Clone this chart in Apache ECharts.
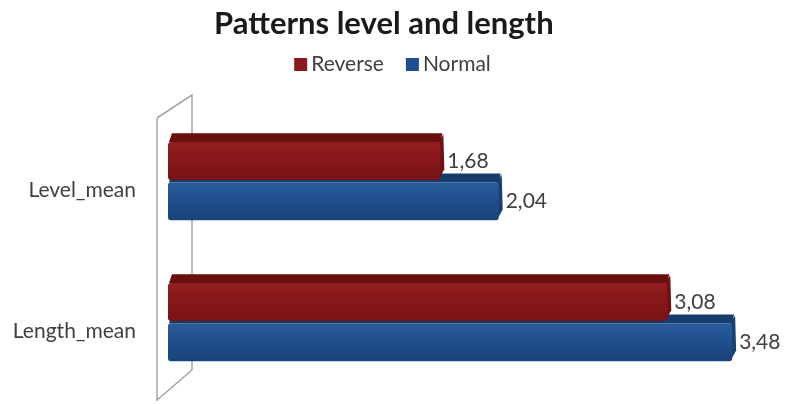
<!DOCTYPE html>
<html>
<head>
<meta charset="utf-8">
<script src="https://cdn.jsdelivr.net/npm/echarts@6/dist/echarts.min.js"></script>
<style>
  html, body { margin: 0; padding: 0; background: #fff; }
  #chart { width: 785px; height: 404px; }
</style>
</head>
<body>
<div id="chart"></div>
<script>
// data
const categories = ['Level_mean', 'Length_mean'];
const reverseValues = [1.68, 3.08];
const normalValues = [2.04, 3.48];

const chart = echarts.init(document.getElementById('chart'), null, { renderer: 'canvas' });

const fmt = v => v.toFixed(2).replace('.', ',');

// 3D-ish bar: front face, top face, right face, plus the value label
function make3dBar(slot, front, top, side) {
  return function (params, api) {
    const v = api.value(0);
    const end = api.coord([v, api.value(1)]);
    const start = api.coord([0, api.value(1)]);
    const band = api.size([0, 1])[1];
    const h = band * 0.27;
    const dy = band * 0.062;
    const dx = 4;
    const y0 = end[1] - band * 0.245 + slot * band * 0.285;
    const x0 = start[0];
    const x1 = end[0];
    return {
      type: 'group',
      children: [
        {
          type: 'polygon',
          shape: { points: [[x0 + 1, y0], [x0 + dx, y0 - dy], [x1 + dx - 2, y0 - dy], [x1, y0]] },
          style: { fill: top }
        },
        {
          type: 'polygon',
          shape: { points: [[x1 - 2, y0], [x1 + dx - 1, y0 - dy + 1], [x1 + dx, y0 + h - dy - 2], [x1 - 2, y0 + h]] },
          style: { fill: side }
        },
        {
          type: 'rect',
          shape: { x: x0, y: y0, width: x1 - x0, height: h, r: 3 },
          style: {
            fill: new echarts.graphic.LinearGradient(0, 0, 0, 1, [
              { offset: 0, color: front[0] },
              { offset: 0.5, color: front[1] },
              { offset: 1, color: front[2] }
            ])
          }
        },
        {
          type: 'text',
          style: {
            text: fmt(v),
            x: x1 + dx + 3,
            y: y0 + h / 2,
            verticalAlign: 'middle',
            align: 'left',
            fill: '#404040',
            fontSize: 21,
            fontFamily: 'Lato'
          }
        }
      ]
    };
  };
}

const option = {
  title: {
    text: 'Patterns level and length',
    left: 209,
    top: 3,
    textStyle: { fontSize: 31, fontWeight: 'bold', color: '#1a1a1a', fontFamily: 'Lato' }
  },
  legend: {
    data: ['Reverse', 'Normal'],
    top: 49,
    left: 'center',
    icon: 'rect',
    itemWidth: 13,
    itemHeight: 13,
    itemGap: 22,
    textStyle: { fontSize: 21, color: '#404040', fontFamily: 'Lato', padding: [0, 0, 0, -1] }
  },
  grid: { left: 168, right: 1, top: 106, bottom: 16 },
  xAxis: {
    type: 'value',
    min: 0,
    max: 3.8,
    show: false
  },
  yAxis: {
    type: 'category',
    data: categories,
    inverse: true,
    axisLine: { show: false },
    axisTick: { show: false },
    axisLabel: {
      fontSize: 21,
      color: '#404040',
      margin: 32,
      fontFamily: 'Lato',
      verticalAlign: 'top',
      lineHeight: 28
    }
  },
  graphic: [
    {
      type: 'polyline',
      z: 1,
      silent: true,
      shape: { points: [[157, 118], [192, 95], [192, 370], [157, 400], [157, 118]] },
      style: { stroke: '#a6a6a6', lineWidth: 1.5, fill: null }
    }
  ],
  series: [
    {
      name: 'Normal',
      type: 'custom',
      z: 2,
      itemStyle: { color: '#1f4e8c' },
      renderItem: make3dBar(1, ['#2a5c9c', '#1f4e8c', '#1a4479'], '#163c6c', '#173f72'),
      data: normalValues.map((v, i) => [v, i])
    },
    {
      name: 'Reverse',
      type: 'custom',
      z: 3,
      itemStyle: { color: '#8b1a1c' },
      renderItem: make3dBar(0, ['#921d20', '#86171a', '#781315'], '#6a0f10', '#6f1012'),
      data: reverseValues.map((v, i) => [v, i])
    }
  ]
};

chart.setOption(option);
</script>
</body>
</html>
